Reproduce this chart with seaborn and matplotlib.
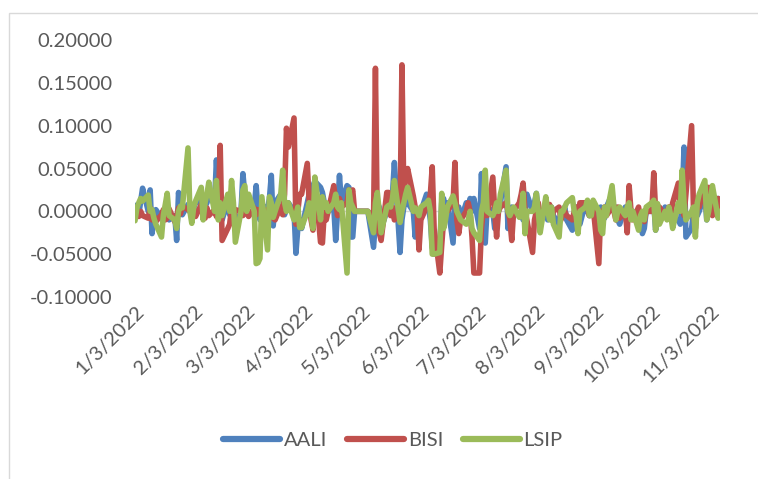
import numpy as np
import pandas as pd
import matplotlib
matplotlib.use("Agg")
import matplotlib.pyplot as plt
import matplotlib.dates as mdates
from matplotlib.patches import Rectangle
from matplotlib.ticker import FuncFormatter, MultipleLocator
import seaborn as sns

# Daily returns, one value per weekday (holidays kept as zero returns)
trade_dates = pd.bdate_range("2022-01-03", "2022-11-08")

aali = [
    # Jan
    0.007, 0.0, -0.004, 0.012, 0.027, 0.0, 0.025, -0.026, -0.006, 0.002, -0.008,
    0.0, -0.005, 0.004, -0.01, -0.005, -0.034, 0.022, 0.0, -0.004, 0.008,
    # Feb
    0.0, -0.005, 0.004, 0.01, 0.012, -0.004, 0.006, 0.01, 0.02, 0.008, 0.06,
    0.02, -0.006, -0.01, 0.012, -0.004, 0.015, 0.004, -0.02, 0.0,
    # Mar
    0.044, 0.02, 0.0, 0.01, 0.005, 0.03, 0.0, -0.01, 0.008, 0.002, 0.015, 0.042,
    -0.017, 0.01, 0.02, 0.015, -0.004, 0.005, 0.01, 0.0, -0.049, -0.02, -0.01,
    # Apr
    -0.02, 0.01, 0.02, 0.005, 0.03, 0.035, 0.028, 0.022, 0.01, -0.005, 0.0,
    0.005, -0.034, 0.0, 0.042, 0.01, 0.03, 0.028, -0.03, -0.03, 0.0,
    # May
    0.0, 0.0, 0.0, 0.0, 0.0, -0.042, -0.01, 0.01, 0.005, -0.02, 0.0,
    0.0, 0.01, 0.02, 0.057, -0.048, -0.01, 0.005, 0.015, 0.01, 0.0, -0.03,
    # Jun
    0.0, -0.02, 0.0, 0.02, 0.005, -0.01, -0.042, -0.05, -0.045, 0.01, 0.015,
    0.0, 0.01, -0.037, 0.01, 0.0, 0.005, -0.01, 0.01, 0.005, 0.015, 0.0,
    # Jul
    0.015, -0.02, 0.044, -0.01, -0.037, 0.005, 0.0, -0.02, -0.01, 0.0, 0.01,
    0.052, -0.02, 0.0, 0.005, 0.0, -0.005, 0.0, -0.01, 0.0, 0.02,
    # Aug
    0.0, 0.01, 0.021, 0.0, -0.01, 0.005, -0.01, 0.0, 0.005, -0.005, -0.015, 0.0,
    0.0, 0.005, -0.01, -0.022, -0.005, 0.005, -0.01, -0.015, 0.01, 0.0, -0.005,
    # Sep
    0.005, 0.0, -0.01, 0.005, 0.0, -0.008, 0.005, 0.02, 0.0, 0.005, -0.01,
    -0.015, 0.005, 0.0, 0.01, -0.005, 0.0, -0.01, -0.015, -0.026, -0.02, 0.0,
    # Oct
    0.0, 0.01, -0.022, 0.0, -0.01, 0.005, -0.005, 0.0, 0.005, -0.01, -0.01,
    -0.015, 0.01, 0.075, -0.03, -0.02, 0.0, 0.01, -0.005, 0.0, 0.02,
    # Nov
    -0.01, 0.005, 0.02, 0.01, 0.015, 0.0,
]

bisi = [
    # Jan
    0.0, -0.004, -0.006, 0.0, -0.005, -0.008, 0.004, -0.01, -0.006, -0.012, -0.004,
    0.002, -0.01, -0.008, 0.003, -0.012, -0.006, 0.004, -0.003, 0.006, 0.002,
    # Feb
    0.0, -0.004, 0.002, -0.006, 0.008, -0.002, -0.008, 0.004, -0.005, 0.002, -0.006,
    0.01, 0.077, -0.034, -0.02, -0.015, 0.004, -0.01, 0.002, 0.0,
    # Mar
    -0.005, 0.0, 0.0, -0.006, 0.004, -0.004, 0.002, -0.003, 0.0, 0.002, -0.004, 0.0,
    -0.008, -0.01, 0.006, -0.004, 0.02, 0.097, 0.075, 0.109, -0.015, 0.0, 0.02,
    # Apr
    0.02, 0.056, 0.01, -0.01, -0.022, 0.039, -0.036, -0.037, 0.0, -0.01, 0.0,
    0.03, 0.01, -0.005, 0.015, 0.005, 0.01, 0.025, 0.02, 0.025, 0.0,
    # May
    0.0, 0.0, 0.0, 0.0, 0.0, -0.01, 0.167, -0.02, -0.025, -0.034, 0.022,
    0.022, -0.005, 0.005, -0.01, 0.0, 0.171, 0.02, 0.04, 0.05, 0.018, 0.005,
    # Jun
    0.0, -0.045, -0.01, 0.005, 0.01, 0.02, 0.052, -0.02, -0.072, -0.04, -0.01,
    0.005, 0.0, 0.01, 0.057, -0.01, -0.026, -0.01, 0.0, 0.01, 0.0, -0.03,
    # Jul
    -0.072, -0.072, -0.02, 0.0, 0.01, -0.005, 0.04, 0.0, -0.03, 0.0, 0.005,
    0.01, 0.0, -0.01, -0.034, 0.0, 0.01, 0.02, 0.033, 0.0, -0.01,
    # Aug
    -0.048, -0.01, 0.0, 0.01, -0.005, 0.005, 0.0, 0.008, -0.01, 0.0, 0.005, -0.01,
    0.0, 0.0, -0.005, -0.01, 0.0, 0.005, -0.01, 0.01, 0.01, 0.005, -0.005,
    # Sep
    0.01, 0.005, -0.061, 0.0, -0.01, 0.005, -0.005, 0.005, 0.0, -0.01, 0.005,
    -0.008, 0.0, -0.025, 0.03, 0.0, -0.01, 0.005, -0.01, -0.005, -0.012, 0.0,
    # Oct
    0.0, 0.045, 0.0, -0.01, 0.005, -0.005, 0.0, 0.005, -0.005, 0.01, 0.033,
    0.0, 0.005, -0.005, 0.02, 0.1, 0.0, -0.02, 0.01, 0.005, 0.03,
    # Nov
    0.0, 0.028, 0.01, -0.005, 0.015, 0.0,
]

lsip = [
    # Jan
    -0.011, 0.004, 0.01, 0.015, 0.012, 0.019, 0.0, 0.002, -0.008, -0.015, -0.03,
    -0.004, 0.008, 0.021, -0.005, -0.01, -0.02, 0.0, 0.006, 0.004, 0.074,
    # Feb
    0.0, -0.014, 0.005, 0.012, 0.028, -0.01, 0.01, 0.02, 0.034, 0.0, 0.036,
    -0.01, 0.01, -0.005, 0.02, 0.0, 0.036, 0.01, -0.036, 0.0,
    # Mar
    0.025, 0.03, 0.0, 0.02, 0.0, -0.061, -0.06, -0.055, 0.017, -0.045, 0.017, 0.01,
    -0.007, 0.0, 0.02, 0.048, 0.01, 0.0, 0.01, -0.01, -0.005, 0.005, -0.019,
    # Apr
    -0.019, 0.0, 0.01, -0.005, -0.02, 0.04, -0.01, 0.017, 0.005, 0.01, 0.0,
    0.01, 0.02, 0.005, 0.002, 0.01, -0.072, 0.025, 0.01, 0.005, 0.0,
    # May
    0.0, 0.0, 0.0, 0.0, 0.0, -0.025, 0.01, 0.022, 0.0, -0.025, 0.005,
    0.007, 0.005, 0.015, 0.036, -0.013, 0.0, 0.01, 0.02, 0.028, 0.0, 0.004,
    # Jun
    0.0, -0.005, 0.005, 0.01, 0.013, 0.0, -0.05, -0.05, -0.048, 0.021, -0.02,
    -0.01, 0.005, 0.018, 0.01, 0.0, -0.005, -0.01, -0.015, -0.01, 0.0, -0.02,
    # Jul
    -0.025, -0.034, 0.0, 0.01, 0.048, 0.0, -0.005, 0.0, 0.01, 0.0, 0.02,
    0.048, 0.0, -0.005, 0.0, 0.005, -0.007, 0.0, 0.021, -0.026, 0.0,
    # Aug
    0.0, 0.005, 0.021, 0.0, -0.025, 0.017, 0.0, -0.01, 0.005, -0.015, -0.03, 0.0,
    0.0, 0.005, 0.01, 0.016, 0.0, -0.005, -0.026, 0.0, 0.005, 0.013, -0.005,
    # Sep
    -0.005, 0.013, 0.0, -0.022, -0.026, 0.005, -0.005, 0.03, 0.005, -0.01, 0.0,
    0.005, -0.005, 0.005, 0.01, -0.01, 0.0, -0.022, -0.005, 0.0, -0.01, 0.005,
    # Oct
    0.01, 0.013, -0.022, 0.009, -0.015, 0.0, -0.01, 0.005, -0.005, -0.02, 0.01,
    0.0, 0.048, 0.01, -0.01, 0.0, 0.005, -0.03, 0.01, 0.02, 0.036,
    # Nov
    -0.01, 0.0, 0.015, 0.03, -0.008, 0.0,
]

series_names = ["AALI", "BISI", "LSIP"]
series_colors = ["#4F81BD", "#C0504D", "#9BBB59"]

frame = pd.DataFrame({"date": trade_dates, "AALI": aali, "BISI": bisi, "LSIP": lsip})
long = frame.melt(id_vars="date", var_name="stock", value_name="ret")

sns.set_style("white")
plt.rcParams["font.family"] = ["Lato", "DejaVu Sans"]

W, H = 758, 479
fig = plt.figure(figsize=(W / 100, H / 100), dpi=100)
ax = fig.add_axes([135 / W, 1 - 297 / H, (720 - 135) / W, (297 - 40) / H])

# Outer chart frame
fig.patches.append(Rectangle((9 / W, -0.05), 1.1, 1 - 13 / H + 0.05,
                             transform=fig.transFigure, fill=False,
                             edgecolor="#D9D9D9", linewidth=1.0))

ax.axhline(0, color="#D9D9D9", linewidth=1.0, zorder=0)

sns.lineplot(data=long, x="date", y="ret", hue="stock", hue_order=series_names,
             palette=series_colors, linewidth=4.0, ax=ax, legend=False,
             estimator=None, sort=False)
for ln in ax.lines:
    ln.set_solid_capstyle("round")
    ln.set_solid_joinstyle("round")

ax.set_xlim(trade_dates[0], trade_dates[-1])
ax.set_ylim(-0.1, 0.2)
ax.yaxis.set_major_locator(MultipleLocator(0.05))
ax.yaxis.set_major_formatter(FuncFormatter(lambda v, p: f"{v:.5f}"))

ax.xaxis.set_major_locator(mdates.MonthLocator(bymonthday=3))
ax.xaxis.set_major_formatter(FuncFormatter(
    lambda v, p: (lambda d: f"{d.month}/{d.day}/{d.year}")(mdates.num2date(v))))

ax.tick_params(axis="y", length=0, pad=16, labelsize=14.5, labelcolor="#595959")
ax.tick_params(axis="x", length=0, pad=4, labelsize=14.5, labelcolor="#595959")
for lbl in ax.get_xticklabels():
    lbl.set_rotation(45)
    lbl.set_ha("right")
    lbl.set_rotation_mode("anchor")

for s in ax.spines.values():
    s.set_visible(False)
ax.set_xlabel("")
ax.set_ylabel("")
ax.grid(False)

handles = [plt.Line2D([], [], color=c, linewidth=4.5, solid_capstyle="round")
           for c in series_colors]
fig.legend(handles, series_names, loc="center", bbox_to_anchor=(393 / W, 1 - 440 / H),
           ncol=3, frameon=False, fontsize=14.5, handlelength=2.8, handletextpad=0.2,
           columnspacing=1.0, labelcolor="#595959")

fig.savefig("out.png", dpi=100)
